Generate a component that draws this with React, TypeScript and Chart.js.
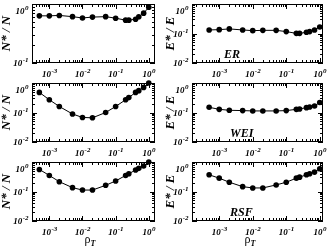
import React, { useEffect, useRef } from "react";
import { Chart, registerables } from "chart.js";
Chart.register(...registerables);

// ---------------- data ----------------
const rhoT = [5e-4, 1e-3, 2e-3, 5e-3, 1e-2, 2e-2, 5e-2, 0.1, 0.2, 0.25, 0.4, 0.5, 0.7, 1.0];
const nStarER = [0.63, 0.63, 0.64, 0.61, 0.58, 0.6, 0.61, 0.575, 0.532, 0.532, 0.553, 0.607, 0.7, 0.88];
const eStarER = [0.132, 0.135, 0.143, 0.132, 0.125, 0.128, 0.128, 0.116, 0.101, 0.101, 0.11, 0.116, 0.132, 0.167];
const nStarWEI = [0.48, 0.27, 0.16, 0.089, 0.068, 0.066, 0.1, 0.16, 0.27, 0.32, 0.48, 0.55, 0.71, 1.0];
const eStarWEI = [0.15, 0.128, 0.119, 0.116, 0.113, 0.113, 0.113, 0.116, 0.128, 0.132, 0.146, 0.154, 0.167, 0.217];
const nStarRSF = [0.56, 0.35, 0.215, 0.135, 0.112, 0.112, 0.162, 0.227, 0.35, 0.4, 0.535, 0.61, 0.73, 1.0];
const eStarRSF = [0.368, 0.283, 0.206, 0.146, 0.132, 0.132, 0.167, 0.206, 0.283, 0.306, 0.368, 0.398, 0.454, 0.59];

const xTickValues = [1e-3, 1e-2, 1e-1, 1];
const xTickExponents = ["-3", "-2", "-1", "0"];
const yTickValuesOne = [1e-1, 1];
const yTickExponentsOne = ["-1", "0"];
const yTickValuesTwo = [1e-2, 1e-1, 1];
const yTickExponentsTwo = ["-2", "-1", "0"];
const modelNames = ["ER", "WEI", "RSF"];
const leftTitle = "N* / N";
const rightTitle = "E* / E";
const xTitleMain = "ρ";
const xTitleSub = "T";

// ---------------- layout ----------------
const FONT = '"Liberation Serif", "DejaVu Serif", serif';
const W = 327;
const H = 249;
const colX = [0, 163];
const colW = [163, 164];
const rowY = [0, 79, 158];
const rowH = [80, 80, 91];
const padCol = [
  { left: 32, right: 8 },
  { left: 29, right: 4 },
];
const padRow = [
  { top: 4, bottom: 17 },
  { top: 4, bottom: 17 },
  { top: 4, bottom: 28 },
];
const xRange = [
  { min: 3.28e-4, max: 1.54 },
  { min: 1.54e-4, max: 1.25 },
];

function logValues(min: number, max: number) {
  const out: { v: number; major: boolean }[] = [];
  for (let e = Math.floor(Math.log10(min)); e <= Math.ceil(Math.log10(max)); e++) {
    for (let m = 1; m <= 9; m++) {
      const v = m * Math.pow(10, e);
      if (v >= min * 0.999 && v <= max * 1.001) out.push({ v, major: m === 1 });
    }
  }
  return out;
}

function drawPow(ctx: CanvasRenderingContext2D, exp: string, x: number, y: number, align: string) {
  const base = `italic bold 9px ${FONT}`;
  const small = `italic bold 7px ${FONT}`;
  ctx.font = base;
  const wb = ctx.measureText("10").width;
  ctx.font = small;
  const we = ctx.measureText(exp).width;
  const total = wb + we;
  const x0 = align === "center" ? x - total / 2 : x - total;
  ctx.textAlign = "left";
  ctx.textBaseline = "alphabetic";
  ctx.font = base;
  ctx.fillText("10", x0, y);
  ctx.font = small;
  ctx.fillText(exp, x0 + wb + 0.5, y - 4);
}

const framePlugin = {
  id: "frame",
  afterDraw(chart: any, _args: any, opts: any) {
    const { ctx, chartArea: a, scales } = chart;
    const xs = scales.x;
    const ys = scales.y;
    ctx.save();
    ctx.strokeStyle = "#000";
    ctx.fillStyle = "#000";
    ctx.lineWidth = 1;
    ctx.strokeRect(a.left + 0.5, a.top + 0.5, a.right - a.left - 1, a.bottom - a.top - 1);
    ctx.beginPath();
    for (const t of logValues(xs.min, xs.max)) {
      const px = Math.round(xs.getPixelForValue(t.v)) + 0.5;
      const len = t.major ? 5 : 3;
      ctx.moveTo(px, a.bottom);
      ctx.lineTo(px, a.bottom - len);
      ctx.moveTo(px, a.top);
      ctx.lineTo(px, a.top + len);
    }
    for (const t of logValues(ys.min, ys.max)) {
      const py = Math.round(ys.getPixelForValue(t.v)) + 0.5;
      const len = t.major ? 5 : 3;
      ctx.moveTo(a.left, py);
      ctx.lineTo(a.left + len, py);
      ctx.moveTo(a.right, py);
      ctx.lineTo(a.right - len, py);
    }
    ctx.stroke();

    // x tick labels
    xTickValues.forEach((v, i) => {
      const px = xs.getPixelForValue(v);
      drawPow(ctx, xTickExponents[i], px, a.bottom + 14, "center");
    });
    // y tick labels
    const yv: number[] = opts.yTickValues;
    const ye: string[] = opts.yTickExponents;
    yv.forEach((v, i) => {
      let py = ys.getPixelForValue(v) + 3;
      if (v === ys.max) py += 7;
      drawPow(ctx, ye[i], a.left - 4, py, "right");
    });

    // y title
    ctx.save();
    ctx.translate(opts.titleX, (a.top + a.bottom) / 2);
    ctx.rotate(-Math.PI / 2);
    ctx.font = `italic bold 13px ${FONT}`;
    ctx.textAlign = "center";
    ctx.textBaseline = "middle";
    ctx.fillText(opts.title, 0, 0);
    ctx.restore();

    // model label
    if (opts.label) {
      ctx.font = `italic bold 12px ${FONT}`;
      ctx.textAlign = "left";
      ctx.textBaseline = "alphabetic";
      ctx.fillText(opts.label, opts.labelX, a.top + 54);
    }

    // x title
    if (opts.showXTitle) {
      ctx.font = `12px ${FONT}`;
      const wm = ctx.measureText(xTitleMain).width;
      ctx.font = `italic bold 8px ${FONT}`;
      const ws = ctx.measureText(xTitleSub).width;
      const x0 = opts.xTitleX - (wm + ws) / 2;
      ctx.textAlign = "left";
      ctx.textBaseline = "alphabetic";
      ctx.font = `12px ${FONT}`;
      ctx.fillText(xTitleMain, x0, a.bottom + 22);
      ctx.font = `italic bold 8px ${FONT}`;
      ctx.fillText(xTitleSub, x0 + wm, a.bottom + 25);
    }
    ctx.restore();
  },
};

type PanelDef = {
  row: number;
  col: number;
  values: number[];
  yMin: number;
  yTickValues: number[];
  yTickExponents: string[];
  title: string;
  label?: string;
};

const panels: PanelDef[] = [
  { row: 0, col: 0, values: nStarER, yMin: 0.1, yTickValues: yTickValuesOne, yTickExponents: yTickExponentsOne, title: leftTitle },
  { row: 0, col: 1, values: eStarER, yMin: 0.01, yTickValues: yTickValuesTwo, yTickExponents: yTickExponentsTwo, title: rightTitle, label: modelNames[0] },
  { row: 1, col: 0, values: nStarWEI, yMin: 0.01, yTickValues: yTickValuesTwo, yTickExponents: yTickExponentsTwo, title: leftTitle },
  { row: 1, col: 1, values: eStarWEI, yMin: 0.01, yTickValues: yTickValuesTwo, yTickExponents: yTickExponentsTwo, title: rightTitle, label: modelNames[1] },
  { row: 2, col: 0, values: nStarRSF, yMin: 0.01, yTickValues: yTickValuesTwo, yTickExponents: yTickExponentsTwo, title: leftTitle },
  { row: 2, col: 1, values: eStarRSF, yMin: 0.01, yTickValues: yTickValuesTwo, yTickExponents: yTickExponentsTwo, title: rightTitle, label: modelNames[2] },
];

function Panel({ p }: { p: PanelDef }) {
  const ref = useRef<HTMLCanvasElement>(null);
  useEffect(() => {
    if (!ref.current) return;
    const pc = padCol[p.col];
    const pr = padRow[p.row];
    const chart = new Chart(ref.current, {
      type: "line",
      data: {
        datasets: [
          {
            data: rhoT.map((r, i) => ({ x: r, y: p.values[i] })),
            borderColor: "#000",
            borderWidth: 1,
            pointRadius: 2.8,
            pointBackgroundColor: "#000",
            pointBorderWidth: 0,
            tension: 0,
            clip: false as any,
          },
        ],
      },
      options: {
        responsive: false,
        animation: false,
        devicePixelRatio: 1,
        layout: { padding: { left: pc.left, right: pc.right, top: pr.top, bottom: pr.bottom } },
        scales: {
          x: { type: "logarithmic", min: xRange[p.col].min, max: xRange[p.col].max, display: false },
          y: { type: "logarithmic", min: p.yMin, max: 1, display: false },
        },
        plugins: {
          legend: { display: false },
          tooltip: { enabled: false },
          frame: {
            yTickValues: p.yTickValues,
            yTickExponents: p.yTickExponents,
            title: p.title,
            titleX: p.col === 0 ? 7 : 8,
            label: p.label,
            labelX: p.label === "ER" ? 61 : 67,
            showXTitle: p.row === 2,
            xTitleX: p.col === 0 ? 90 : 87,
          },
        } as any,
      },
      plugins: [framePlugin],
    });
    return () => chart.destroy();
  }, [p]);
  return (
    <canvas
      ref={ref}
      width={colW[p.col]}
      height={rowH[p.row]}
      style={{ position: "absolute", left: colX[p.col], top: rowY[p.row], width: colW[p.col], height: rowH[p.row] }}
    />
  );
}

export default function App() {
  return (
    <div style={{ position: "absolute", left: 0, top: 0, width: W, height: H, background: "#fff", overflow: "hidden" }}>
      {panels.map((p, i) => (
        <Panel key={i} p={p} />
      ))}
    </div>
  );
}
